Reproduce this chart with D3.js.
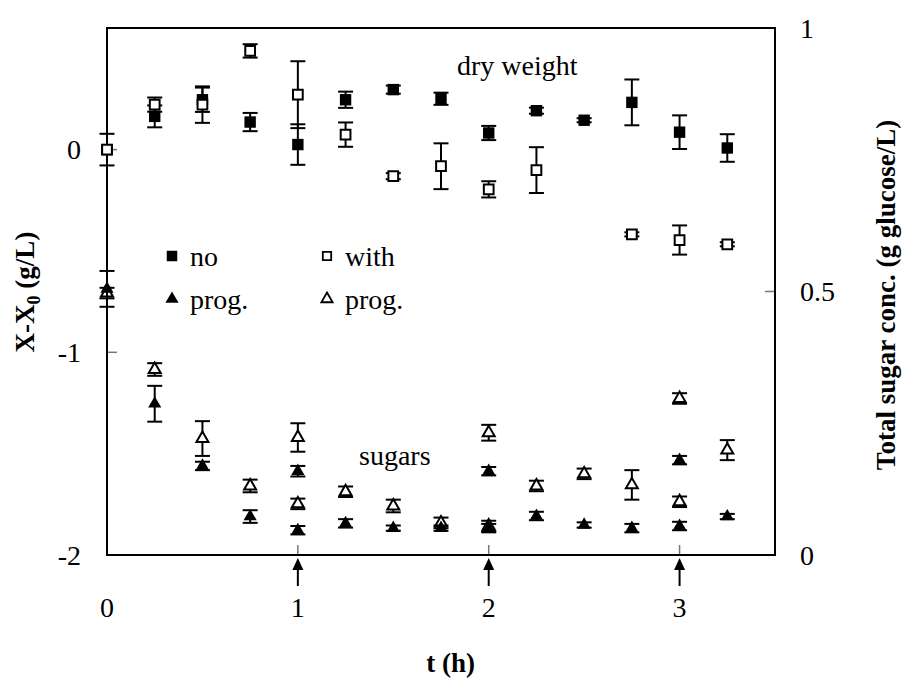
<!DOCTYPE html>
<html>
<head>
<meta charset="utf-8">
<script src="https://cdn.jsdelivr.net/npm/d3@7"></script>
<style>
  body { margin: 0; background: #fff; }
  text { font-family: "Liberation Serif", "Times New Roman", serif; fill: #000; }
  .title { font-weight: bold; font-size: 27px; }
  .tick { font-size: 28px; }
</style>
</head>
<body>
<div id="chart"></div>
<script>
// dry weight, X-X0 (g/L), left axis
var tDry = [0, 0.25, 0.5, 0.75, 1, 1.25, 1.5, 1.75, 2, 2.25, 2.5, 2.75, 3, 3.25];
var dryNo      = [0, 0.164, 0.246, 0.136, 0.025, 0.246, 0.296, 0.251, 0.082, 0.192, 0.145, 0.233, 0.086, 0.008];
var dryNoErr   = [0, 0.054, 0.06, 0.045, 0.1, 0.04, 0.02, 0.03, 0.035, 0.015, 0.01, 0.113, 0.083, 0.068];
var dryWith    = [0, 0.222, 0.222, 0.487, 0.271, 0.074, -0.131, -0.082, -0.196, -0.101, null, -0.418, -0.446, -0.467];
var dryWithErr = [0.078, 0.035, 0.09, 0.033, 0.165, 0.06, 0.015, 0.113, 0.04, 0.113, null, 0.01, 0.072, 0.01];

// total sugars (g glucose/L), right axis -- two samples at each addition time
var tSug = [0, 0.25, 0.5, 0.75, 1, 1, 1.25, 1.5, 1.75, 2, 2, 2.25, 2.5, 2.75, 3, 3, 3.25];
var sugNo      = [0.505, 0.287, 0.169, 0.073, 0.047, 0.159, 0.060, 0.051, 0.051, 0.051, 0.159, 0.074, 0.057, 0.051, 0.055, 0.180, 0.073];
var sugNoErr   = [0.034, 0.034, 0.008, 0.012, 0.008, 0.01, 0.008, 0.005, 0.005, 0.008, 0.008, 0.008, 0.005, 0.008, 0.008, 0.008, 0.005];
var sugWith    = [0.497, 0.352, 0.221, 0.131, 0.097, 0.223, 0.120, 0.093, 0.061, 0.055, 0.232, 0.131, 0.154, 0.133, 0.101, 0.297, 0.199];
var sugWithErr = [0.01, 0.012, 0.033, 0.012, 0.01, 0.027, 0.01, 0.012, 0.01, 0.01, 0.015, 0.01, 0.01, 0.028, 0.01, 0.01, 0.019];

// sugar additions
var additions = [1, 2, 3];

var xTicks = [0, 1, 2, 3];
var yLeftTicks = [-2, -1, 0];
var yRightTicks = [0, 0.5, 1];

var width = 906, height = 678;
var margin = {top: 28, right: 131, bottom: 123, left: 107};

var svg = d3.select("#chart").append("svg")
    .attr("width", width)
    .attr("height", height);

var x = d3.scaleLinear().domain([0, 3.5]).range([margin.left, width - margin.right]);
var yL = d3.scaleLinear().domain([-2, 0.6]).range([height - margin.bottom, margin.top]);
var yR = d3.scaleLinear().domain([0, 1]).range([height - margin.bottom, margin.top]);

var x0 = x.range()[0], x1 = x.range()[1], yb = yL.range()[0], yt = yL.range()[1];

// inside ticks
svg.append("g")
    .selectAll("line").data(yLeftTicks).enter().append("line")
    .attr("x1", x0).attr("x2", x0 + 10)
    .attr("y1", d => yL(d)).attr("y2", d => yL(d))
    .attr("stroke", "#777").attr("stroke-width", 1.5);
svg.append("g")
    .selectAll("line").data(yRightTicks).enter().append("line")
    .attr("x1", x1 - 10).attr("x2", x1)
    .attr("y1", d => yR(d)).attr("y2", d => yR(d))
    .attr("stroke", "#777").attr("stroke-width", 1.5);
svg.append("g")
    .selectAll("line").data(xTicks).enter().append("line")
    .attr("x1", d => x(d)).attr("x2", d => x(d))
    .attr("y1", yb).attr("y2", yb - 10)
    .attr("stroke", "#777").attr("stroke-width", 1.5);

// frame
svg.append("rect")
    .attr("x", x0).attr("y", yt)
    .attr("width", x1 - x0).attr("height", yb - yt)
    .attr("fill", "none").attr("stroke", "#000").attr("stroke-width", 2);

// tick labels
svg.append("g").selectAll("text").data(yLeftTicks).enter().append("text")
    .attr("class", "tick")
    .attr("x", 81).attr("y", d => yL(d)).attr("dy", "0.35em")
    .attr("text-anchor", "end")
    .text(d => d);
svg.append("g").selectAll("text").data(yRightTicks).enter().append("text")
    .attr("class", "tick")
    .attr("x", 800).attr("y", d => yR(d)).attr("dy", "0.35em")
    .text(d => d);
svg.append("g").selectAll("text").data(xTicks).enter().append("text")
    .attr("class", "tick")
    .attr("x", d => x(d)).attr("y", 607).attr("dy", "0.35em")
    .attr("text-anchor", "middle")
    .text(d => d);

// arrows for additions
var arrows = svg.append("g").selectAll("g").data(additions).enter().append("g")
    .attr("transform", d => "translate(" + x(d) + ",0)");
arrows.append("line")
    .attr("x1", 0).attr("x2", 0).attr("y1", 586).attr("y2", 566)
    .attr("stroke", "#000").attr("stroke-width", 2);
arrows.append("path")
    .attr("d", "M0," + (yb + 3) + "L-5.5," + (yb + 15) + "L5.5," + (yb + 15) + "Z")
    .attr("fill", "#000");

// axis titles
svg.append("text").attr("class", "title")
    .attr("x", x(1.8)).attr("y", 663).attr("dy", "0.35em")
    .attr("text-anchor", "middle")
    .text("t (h)");
var lt = svg.append("text").attr("class", "title")
    .attr("transform", "translate(25,292) rotate(-90)")
    .attr("dy", "0.35em")
    .attr("text-anchor", "middle");
lt.append("tspan").text("X-X");
lt.append("tspan").attr("font-size", "18px").attr("dy", "6").text("0");
lt.append("tspan").attr("dy", "-6").text(" (g/L)");
svg.append("text").attr("class", "title")
    .attr("transform", "translate(886,295) rotate(-90)")
    .attr("dy", "0.35em")
    .attr("text-anchor", "middle")
    .text("Total sugar conc. (g glucose/L)");

// series
function pts(t, v, e) {
  return t.map((d, i) => ({t: d, v: v[i], e: e[i]})).filter(d => d.v != null);
}

function drawSeries(data, yScale, shape, filled) {
  var g = svg.append("g");
  var cap = 7.5;
  var eb = g.selectAll(".err").data(data.filter(d => d.e > 0)).enter().append("g")
      .attr("stroke", "#000").attr("stroke-width", 2);
  eb.append("line")
      .attr("x1", d => x(d.t)).attr("x2", d => x(d.t))
      .attr("y1", d => yScale(d.v - d.e)).attr("y2", d => yScale(d.v + d.e));
  eb.append("line")
      .attr("x1", d => x(d.t) - cap).attr("x2", d => x(d.t) + cap)
      .attr("y1", d => yScale(d.v + d.e)).attr("y2", d => yScale(d.v + d.e));
  eb.append("line")
      .attr("x1", d => x(d.t) - cap).attr("x2", d => x(d.t) + cap)
      .attr("y1", d => yScale(d.v - d.e)).attr("y2", d => yScale(d.v - d.e));

  var sym = shape === "square"
    ? d3.symbol().type(d3.symbolSquare).size(filled ? 130 : 95)
    : d3.symbol().type(d3.symbolTriangle).size(filled ? 75 : 62);
  g.selectAll(".pt").data(data).enter().append("path")
      .attr("d", sym)
      .attr("transform", d => "translate(" + x(d.t) + "," + yScale(d.v) + ")")
      .attr("fill", filled ? "#000" : "#fff")
      .attr("stroke", "#000")
      .attr("stroke-width", filled ? 0 : 2);
}

drawSeries(pts(tDry, dryNo, dryNoErr), yL, "square", true);
drawSeries(pts(tDry, dryWith, dryWithErr), yL, "square", false);
drawSeries(pts(tSug, sugWith, sugWithErr), yR, "triangle", false);
drawSeries(pts(tSug, sugNo, sugNoErr), yR, "triangle", true);

// annotations
svg.append("text").attr("class", "tick").attr("x", 457).attr("y", 75).text("dry weight");
svg.append("text").attr("class", "tick").attr("x", 359).attr("y", 465).text("sugars");

// legend
var legend = [
  {label: "no", shape: "square", filled: true, lx: 172, ly: 256},
  {label: "prog.", shape: "triangle", filled: true, lx: 172, ly: 299},
  {label: "with", shape: "square", filled: false, lx: 327, ly: 256},
  {label: "prog.", shape: "triangle", filled: false, lx: 327, ly: 299}
];
var lg = svg.append("g").selectAll("g").data(legend).enter().append("g")
    .attr("transform", d => "translate(" + d.lx + "," + d.ly + ")");
lg.append("path")
    .attr("d", d => d.shape === "square"
      ? d3.symbol().type(d3.symbolSquare).size(d.filled ? 110 : 70)()
      : d3.symbol().type(d3.symbolTriangle).size(d.filled ? 75 : 55)())
    .attr("fill", d => d.filled ? "#000" : "#fff")
    .attr("stroke", "#000")
    .attr("stroke-width", d => d.filled ? 0 : 1.8);
lg.append("text").attr("class", "tick")
    .attr("x", 18).attr("y", 0).attr("dy", "0.35em")
    .text(d => d.label);
</script>
</body>
</html>
